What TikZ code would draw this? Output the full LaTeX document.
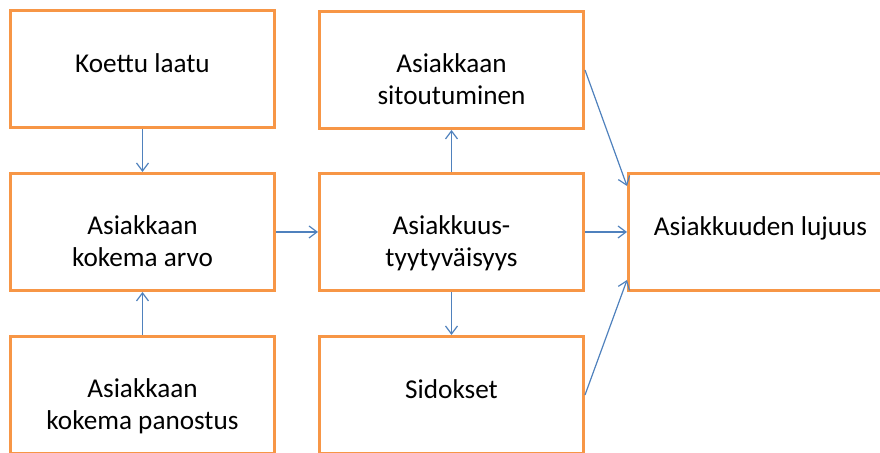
\documentclass[tikz,border=0pt]{standalone}
\usepackage{fontspec}
\setmainfont{Carlito}
\usetikzlibrary{
  arrows.meta,
  positioning
}
\definecolor{boxborder}{HTML}{F79646}
\definecolor{arrowcolor}{HTML}{4F81BD}
\tikzset{
  base/.style={
    draw=boxborder,
    fill=white,
    line width=1.5pt,
    minimum width=132pt,
    minimum height=58.5pt,
    align=center,
    font=\fontsize{13.6}{16}\selectfont,
    text=black,
    inner sep=3pt,
  },
  box/.style={
    base,
    text height=10pt,
    text depth=6.2pt,
  },
  boxtwo/.style={
    base,
    text height=34.8pt,
    text depth=0pt,
  },
  flow/.style={
    -{Straight Barb[length=4pt, width=6pt]},
    line width=0.6pt,
    draw=arrowcolor,
  },
}

\begin{document}
\begin{tikzpicture}

\useasboundingbox (0,0) rectangle (440pt,-226.5pt);
\clip (0,0) rectangle (440pt,-226.5pt);

% === LEFT COLUMN ===

\node[box, anchor=north west]
  (laatu) at (4.5pt,-4.5pt) {Koettu laatu};

\node[boxtwo, below=21.5pt of laatu]
  (arvo) {Asiakkaan\\kokema arvo};

\node[boxtwo, below=21.5pt of arvo]
  (panostus) {Asiakkaan\\kokema panostus};

\draw[flow] (laatu) -- (arvo);
\draw[flow] (panostus) -- (arvo);

% === MIDDLE COLUMN ===

\node[boxtwo, right=21pt of arvo]
  (tyyt) {Asiakkuus-\\tyytyväisyys};

\node[boxtwo, above=21pt of tyyt]
  (sitout) {Asiakkaan\\sitoutuminen};

\node[box, below=21.5pt of tyyt]
  (sidokset) {Sidokset};

\draw[flow] (arvo) -- (tyyt);
\draw[flow] (tyyt) -- (sitout);
\draw[flow] (tyyt) -- (sidokset);

% === RIGHT: outcome ===

\node[box, right=21pt of tyyt]
  (lujuus) {Asiakkuuden lujuus};

\draw[flow] (tyyt) -- (lujuus);
\draw[flow] (sitout.east) -- ([yshift=23pt]lujuus.west);
\draw[flow] (sidokset.east) -- ([yshift=-24pt]lujuus.west);

\end{tikzpicture}
\end{document}
